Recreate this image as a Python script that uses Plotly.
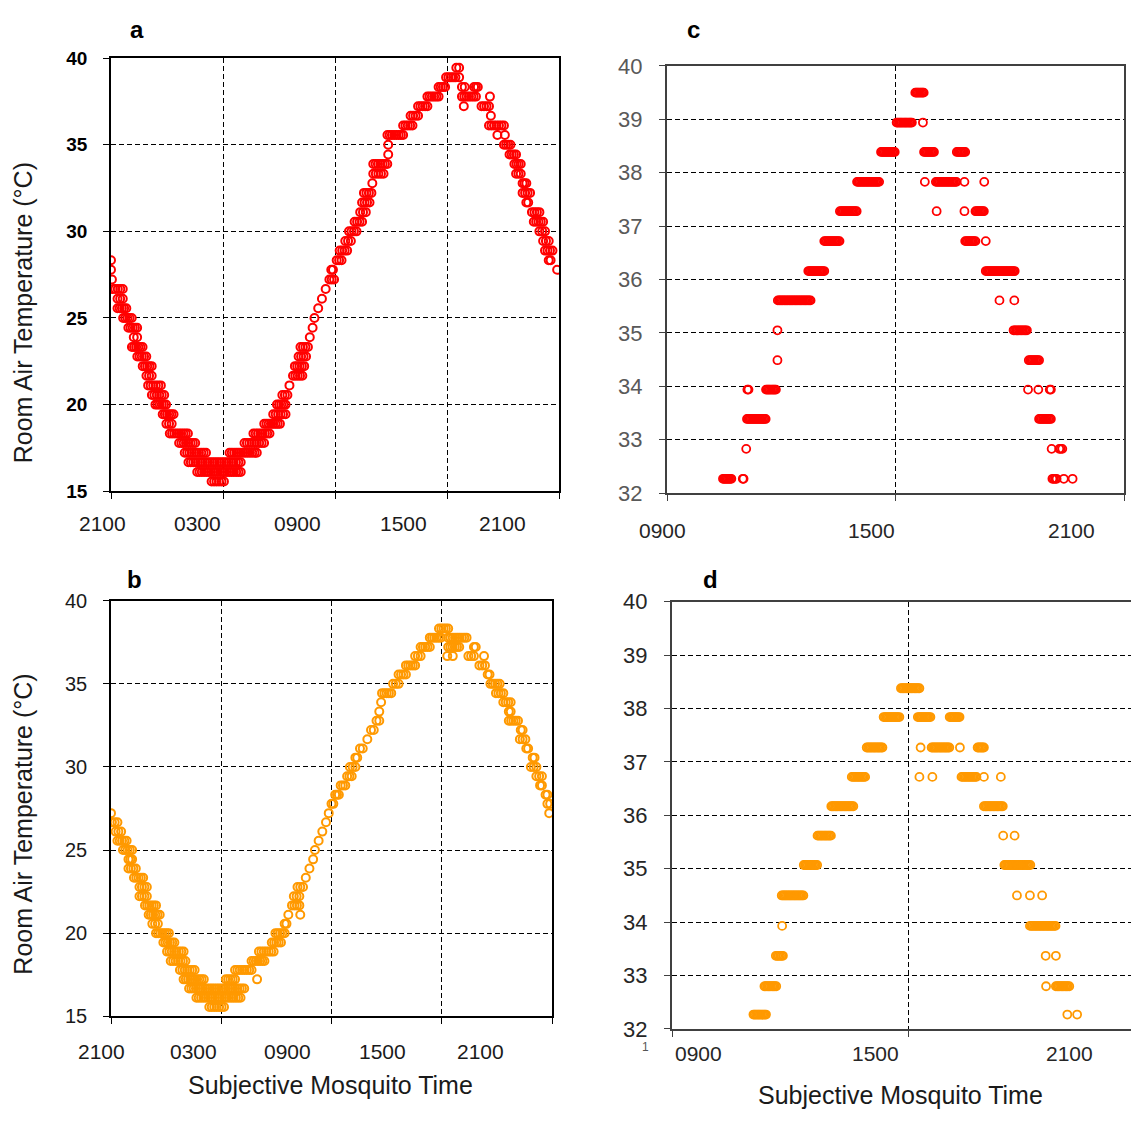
import plotly.graph_objects as go

# ---------------- data (runs of identical logger readings) ----------------
# Panels a/b: hours after 2100 (0..24); logger interval 7.5 min
# Panels c/d: clock hours (9..21);     logger interval 2 min
A_STEP = 1 / 8
C_STEP = 1 / 30

a_temp = [28.33, 27.78, 27.22, 26.67, 26.11, 25.56, 25.0, 24.44, 23.89, 23.33, 22.78, 22.22, 21.67, 21.11,
          20.56, 20.0, 19.44, 18.89, 18.33, 17.78, 17.22, 16.67, 16.11, 15.56, 17.22, 17.78, 18.33, 18.89,
          19.44, 20.0, 20.56, 21.11, 21.67, 22.22, 22.78, 23.33, 23.89, 24.44, 25.0, 25.56, 26.11, 26.67,
          27.22, 27.78, 28.33, 28.89, 29.44, 30.0, 30.56, 31.11, 31.67, 32.22, 32.78, 33.33, 33.89, 34.44,
          35.0, 35.56, 36.11, 36.67, 37.22, 37.78, 38.33, 38.89, 39.44, 38.89, 38.33, 38.33, 37.78, 37.78,
          37.22, 37.22, 36.67, 36.11, 35.56, 35.56, 35.0, 34.44, 33.89, 33.33, 32.78, 32.22, 31.67, 31.11,
          30.56, 30.0, 29.44, 28.89, 28.33, 27.78]
a_from = [0.0, 0.0, 0.05, 0.1, 0.35, 0.35, 0.65, 0.93, 1.22, 1.12, 1.41, 1.7, 1.9, 1.99,
          2.19, 2.38, 2.77, 2.97, 3.15, 3.65, 3.95, 4.15, 4.62, 5.39, 6.35, 7.15, 7.63, 8.21,
          8.69, 8.89, 9.18, 9.56, 9.75, 9.85, 10.05, 10.15, 10.65, 10.8, 10.9, 11.1, 11.3, 11.5,
          11.7, 11.8, 12.09, 12.25, 12.55, 12.75, 13.05, 13.35, 13.45, 13.55, 14.0, 14.05, 14.05, 14.85,
          14.85, 14.81, 15.65, 16.05, 16.45, 16.95, 17.55, 17.95, 18.5, 18.65, 18.8, 19.45, 18.8, 20.3,
          18.9, 19.85, 20.35, 20.25, 20.7, 21.1, 21.05, 21.35, 21.61, 21.7, 22.05, 22.05, 22.25, 22.55,
          22.65, 22.95, 23.15, 23.25, 23.45, 23.9]
a_to = [0.0, 0.0, 0.05, 0.63, 0.63, 0.82, 1.11, 1.4, 1.4, 1.69, 1.89, 2.18, 2.18, 2.67,
        2.85, 2.95, 3.35, 3.25, 4.12, 4.51, 5.09, 6.95, 6.95, 6.05, 7.81, 8.2, 8.49, 9.05,
        9.35, 9.35, 9.45, 9.56, 10.25, 10.35, 10.45, 10.55, 10.65, 10.8, 10.9, 11.1, 11.3, 11.55,
        11.95, 11.89, 12.35, 12.65, 12.85, 13.15, 13.45, 13.65, 13.85, 13.95, 14.0, 14.6, 14.8, 14.85,
        14.85, 15.65, 16.15, 16.45, 16.95, 17.55, 17.9, 18.45, 18.65, 18.65, 18.95, 19.65, 19.55, 20.3,
        18.9, 20.25, 20.35, 21.05, 20.7, 21.1, 21.4, 21.7, 21.95, 21.95, 22.25, 22.45, 22.35, 22.95,
        23.15, 23.25, 23.45, 23.65, 23.55, 23.95]

b_temp = [27.22, 26.67, 26.11, 25.56, 25.0, 24.44, 23.89, 23.33, 22.78, 22.22, 21.67, 21.11, 20.56, 20.0,
          19.44, 18.89, 18.33, 17.78, 17.22, 16.67, 16.11, 15.56, 17.22, 17.22, 17.78, 18.33, 18.89, 19.44,
          20.0, 20.56, 21.11, 21.11, 21.67, 22.22, 22.78, 23.33, 23.89, 24.44, 25.0, 25.56, 26.11, 26.67,
          27.22, 27.78, 28.33, 28.89, 29.44, 30.0, 30.56, 31.11, 31.67, 32.22, 32.78, 33.33, 33.89, 34.44,
          35.0, 35.56, 36.11, 36.67, 37.22, 37.78, 38.33, 37.78, 37.22, 37.22, 36.67, 36.67, 36.67, 36.67,
          36.11, 35.56, 35.0, 34.44, 33.89, 33.33, 32.78, 32.22, 31.67, 31.11, 30.56, 30.0, 29.44, 28.89,
          28.33, 27.78, 27.22]
b_from = [0.0, 0.05, 0.25, 0.35, 0.65, 0.95, 0.95, 1.25, 1.55, 1.55, 1.85, 2.05, 2.25, 2.45,
          2.85, 3.05, 3.25, 3.75, 3.95, 4.25, 4.65, 5.35, 6.25, 7.95, 6.75, 7.65, 8.05, 8.75,
          8.95, 9.45, 9.65, 10.3, 9.85, 9.95, 10.15, 10.6, 10.8, 11.0, 11.1, 11.3, 11.5, 11.7,
          11.85, 12.0, 12.2, 12.5, 12.85, 13.0, 13.3, 13.55, 13.95, 14.15, 14.45, 14.6, 14.7, 14.75,
          15.35, 15.65, 16.05, 16.55, 16.85, 17.35, 17.85, 18.35, 18.35, 19.75, 18.3, 18.6, 19.45, 20.3,
          20.05, 20.5, 20.65, 20.95, 21.35, 21.65, 21.65, 22.3, 22.25, 22.6, 22.95, 22.85, 23.15, 23.35,
          23.65, 23.75, 23.85]
b_to = [0.0, 0.35, 0.55, 0.85, 1.15, 1.15, 1.35, 1.75, 1.95, 1.95, 2.45, 2.65, 2.55, 3.15,
        3.45, 3.95, 4.05, 4.55, 5.05, 7.25, 7.05, 6.15, 6.75, 7.95, 7.65, 8.35, 8.85, 9.25,
        9.45, 9.55, 9.65, 10.3, 10.25, 10.25, 10.45, 10.6, 10.8, 11.0, 11.1, 11.3, 11.5, 11.7,
        11.9, 12.1, 12.4, 12.75, 13.1, 13.3, 13.4, 13.7, 14.0, 14.3, 14.6, 14.6, 14.7, 15.25,
        15.65, 16.05, 16.55, 16.85, 17.35, 17.95, 18.35, 19.35, 18.95, 19.85, 18.3, 18.6, 19.75, 20.3,
        20.35, 20.6, 21.15, 21.35, 21.75, 21.75, 22.15, 22.4, 22.55, 22.7, 23.05, 23.15, 23.45, 23.45,
        23.75, 23.9, 23.85]

c_temp = [39.5, 38.94, 38.94, 38.39, 38.39, 38.39, 37.83, 37.83, 37.83, 37.83, 37.83, 37.28, 37.28, 37.28,
          37.28, 36.72, 36.72, 36.72, 36.16, 36.16, 35.61, 35.61, 35.61, 35.05, 35.05, 34.49, 34.49, 33.94,
          33.94, 33.94, 33.94, 33.94, 33.39, 33.39, 32.83, 32.83, 32.83, 32.27, 32.27, 32.27, 32.27, 32.27]
c_from = [15.52, 15.03, 15.72, 14.62, 15.75, 16.61, 13.99, 15.77, 16.06, 16.81, 17.33, 13.54, 16.08, 16.81,
          17.1, 13.13, 16.83, 17.37, 12.71, 17.37, 11.91, 17.73, 18.12, 11.9, 18.1, 11.9, 18.5, 11.11,
          11.6, 18.48, 18.75, 19.05, 11.1, 18.77, 11.08, 19.1, 19.3, 10.47, 10.99, 19.12, 19.42, 19.65]
c_to = [15.74, 15.43, 15.72, 14.98, 16.01, 16.83, 14.57, 15.77, 16.6, 16.81, 17.33, 13.98, 16.08, 16.81,
        17.32, 13.53, 17.1, 17.37, 13.13, 18.13, 12.77, 17.73, 18.12, 11.9, 18.45, 11.9, 18.77, 11.14,
        11.86, 18.48, 18.75, 19.08, 11.59, 19.08, 11.08, 19.1, 19.38, 10.69, 11.01, 19.23, 19.42, 19.65]

d_temp = [38.38, 37.84, 37.84, 37.84, 37.27, 37.27, 37.27, 37.27, 37.27, 36.72, 36.72, 36.72, 36.72, 36.72,
          36.72, 36.17, 36.17, 35.62, 35.62, 35.62, 35.07, 35.07, 34.5, 34.5, 34.5, 34.5, 33.93, 33.93,
          33.37, 33.37, 33.37, 32.8, 32.8, 32.8, 32.27, 32.27, 32.27]
d_from = [14.82, 14.38, 15.25, 16.06, 13.95, 15.32, 15.6, 16.32, 16.77, 13.57, 15.29, 15.62, 16.36, 16.93,
          17.36, 13.05, 16.93, 12.7, 17.42, 17.71, 12.35, 17.45, 11.79, 17.77, 18.1, 18.41, 11.8, 18.1,
          11.64, 18.5, 18.76, 11.35, 18.51, 18.76, 11.07, 19.05, 19.3]
d_to = [15.29, 14.78, 15.57, 16.31, 14.35, 15.32, 16.05, 16.32, 16.93, 13.91, 15.29, 15.62, 16.74, 16.93,
        17.36, 13.61, 17.41, 13.04, 17.42, 17.71, 12.69, 18.11, 12.34, 17.77, 18.1, 18.41, 11.8, 18.75,
        11.82, 18.5, 18.76, 11.65, 18.51, 19.1, 11.39, 19.05, 19.3]

ab_ticks = [0, 6, 12, 18, 24]
ab_labels = ["2100", "0300", "0900", "1500", "2100"]
cd_ticks = [9, 15, 21]
cd_labels = ["0900", "1500", "2100"]

RED = "#FF0000"
ORANGE = "#FF9900"
W, H = 1139, 1128          # browser window
OFF = 8                    # default body margin of the html page
FW, FH = W - OFF, H - OFF  # figure size


def expand(temps, starts, ends, step):
    xs, ys = [], []
    for t, s, e in zip(temps, starts, ends):
        n = int(round((e - s) / step)) + 1
        for k in range(n):
            xs.append(s if n == 1 else s + k * (e - s) / (n - 1))
            ys.append(t)
    return xs, ys


def px_x(p):
    return (p - OFF) / FW


def px_y(p):
    return 1 - (p - OFF) / FH


fig = go.Figure()
panels = [
    ("x", "y", a_temp, a_from, a_to, A_STEP, RED, 2.0),
    ("x2", "y2", b_temp, b_from, b_to, A_STEP, ORANGE, 2.0),
    ("x3", "y3", c_temp, c_from, c_to, C_STEP, RED, 1.8),
    ("x4", "y4", d_temp, d_from, d_to, C_STEP, ORANGE, 1.8),
]
for xa, ya, tt, ss, ee, step, col, lw in panels:
    xs, ys = expand(tt, ss, ee, step)
    fig.add_trace(go.Scatter(
        x=xs, y=ys, mode="markers", xaxis=xa, yaxis=ya, showlegend=False,
        marker=dict(symbol="circle-open", size=8, color=col, line=dict(width=lw, color=col)),
    ))

FONT = "Liberation Sans, Arial, sans-serif"
GRID = dict(showgrid=True, gridcolor="black", gridwidth=1, griddash="5px,3px", zeroline=False)


def xaxis(dom, rng, ticks, anchor, lc, lw, mirror=True):
    return dict(domain=dom, range=rng, tickvals=ticks, showticklabels=False, ticks="outside",
                ticklen=6, tickcolor=lc, tickwidth=1.3, showline=True, linecolor=lc, linewidth=lw,
                mirror=mirror, anchor=anchor, fixedrange=True, **GRID)


def yaxis(dom, rng, ticks, anchor, lc, lw, font, mirror=True):
    return dict(domain=dom, range=rng, tickvals=ticks, ticks="outside", ticklen=6, tickcolor=lc,
                tickwidth=1.3, showline=True, linecolor=lc, linewidth=lw, mirror=mirror,
                anchor=anchor, tickfont=font, ticklabelstandoff=12, fixedrange=True, **GRID)


fig.update_layout(
    width=FW, height=FH, margin=dict(l=0, r=0, t=0, b=0),
    paper_bgcolor="white", plot_bgcolor="white", showlegend=False,
    font=dict(family=FONT, color="#1a1a1a"),
    xaxis=xaxis([px_x(111), px_x(559)], [0, 24], ab_ticks, "y", "black", 1.5),
    yaxis=yaxis([px_y(490), px_y(47)], [15, 40], [15, 20, 25, 30, 35, 40], "x", "black", 1.5,
                dict(family=FONT, size=19, color="black", weight="bold")),
    xaxis2=xaxis([px_x(111), px_x(552)], [0, 24], ab_ticks, "y2", "black", 1.5),
    yaxis2=yaxis([px_y(1027), px_y(602)], [15, 40], [15, 20, 25, 30, 35, 40], "x2", "black", 1.5,
                 dict(family=FONT, size=20, color="#1a1a1a")),
    xaxis3=xaxis([px_x(667), px_x(1124)], [9, 21], cd_ticks, "y3", "#404040", 2),
    yaxis3=yaxis([px_y(492), px_y(55)], [32, 40], list(range(32, 41)), "x3", "#404040", 2,
                 dict(family=FONT, size=22, color="#595959")),
    xaxis4=xaxis([px_x(672), 1.0], [9, 9 + (W - 672) / ((908 - 672) / 6)], cd_ticks, "y4", "#404040", 2),
    yaxis4=yaxis([px_y(1040), px_y(603)], [32, 40], list(range(32, 41)), "x4", "#404040", 2,
                 dict(family=FONT, size=22, color="#262626"), mirror=False),
)

ann = []
# x tick labels (placed as in the original figure, offset from the tick marks)
for lab, p in zip(ab_labels, [103, 197, 297, 403, 502]):
    ann.append(dict(text=lab, x=px_x(p), y=px_y(523), size=21, color="#1a1a1a"))
for lab, p in zip(ab_labels, [101, 193, 287, 382, 480]):
    ann.append(dict(text=lab, x=px_x(p), y=px_y(1063), size=21, color="#1a1a1a"))
for lab, p in zip(cd_labels, [662, 871, 1071]):
    ann.append(dict(text=lab, x=px_x(p), y=px_y(530), size=21, color="#262626"))
for lab, p in zip(cd_labels, [698, 875, 1069]):
    ann.append(dict(text=lab, x=px_x(p), y=px_y(1065), size=21, color="#262626"))

for a in ann:
    fig.add_annotation(text=a["text"], x=a["x"], y=a["y"], xref="paper", yref="paper",
                       showarrow=False, xanchor="center", yanchor="middle",
                       font=dict(family=FONT, size=a["size"], color=a["color"]))

# panel letters
for lab, p, q in [("a", 137, 18), ("b", 134, 580), ("c", 693, 18), ("d", 710, 580)]:
    fig.add_annotation(text=lab, x=px_x(p), y=px_y(q), xref="paper", yref="paper", showarrow=False,
                       xanchor="center", yanchor="middle",
                       font=dict(family=FONT, size=24, color="black", weight="bold"))

# axis titles
for q in [308, 831]:
    fig.add_annotation(text="Room Air Temperature (°C)", x=px_x(23), y=px_y(q), xref="paper", yref="paper",
                       showarrow=False, textangle=-90, xanchor="center", yanchor="middle",
                       font=dict(family=FONT, size=25, color="#1a1a1a"))
for p, q in [(330, 1097), (900, 1108)]:
    fig.add_annotation(text="Subjective Mosquito Time", x=px_x(p), y=px_y(q), xref="paper", yref="paper",
                       showarrow=False, xanchor="center", yanchor="middle",
                       font=dict(family=FONT, size=25, color="#1a1a1a"))

fig.add_annotation(text="1", x=px_x(645), y=px_y(1058), xref="paper", yref="paper", showarrow=False,
                   xanchor="center", yanchor="middle", font=dict(family=FONT, size=12, color="#555555"))

fig.write_html("out.html")
